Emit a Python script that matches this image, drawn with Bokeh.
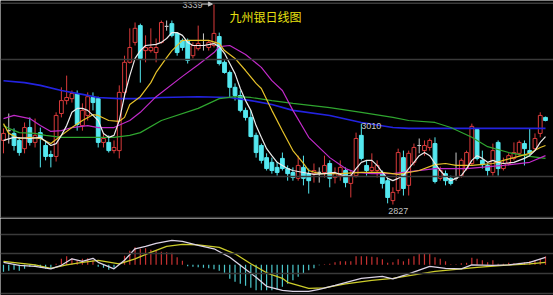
import numpy as np
from bokeh.plotting import figure
from bokeh.layouts import column
from bokeh.models import Range1d, ColumnDataSource, Span, Arrow, NormalHead
from bokeh.core.properties import value
from bokeh.embed import file_html
from bokeh.resources import INLINE

# ---------------- data (daily candles) ----------------
open_ = [2991,3016,3009,2991,2970,3024,2986,3011,2978,2955,
         2950,3060,3093,3098,3111,3029,3055,3101,3098,2986,
         2986,2965,2965,3114,3191,3242,3285,3221,3221,3216,
         3242,3283,3290,3265,3247,3247,3208,3226,3234,3229,
         3234,3257,3191,3165,3127,3106,3068,3050,3004,2978,
         2947,2935,2922,2945,2919,2909,2894,2922,2906,2906,
         2909,2909,2932,2896,2901,2914,2881,2901,3004,2927,
         2914,2914,2909,2888,2837,2863,2947,2876,2935,2978,
         2965,2973,2983,2894,2906,2894,2894,2901,2919,2932,
         3019,2940,2927,2909,2986,2919,2932,2945,2958,2983,
         2965,2970,3009,3050]
high = [3022,3060,3022,2999,3037,3050,3047,3024,2991,2965,
        3063,3127,3157,3119,3119,3086,3114,3114,3103,3009,
        3004,2991,3132,3208,3278,3293,3290,3260,3278,3252,
        3298,3298,3298,3267,3252,3252,3242,3285,3265,3247,
        3339,3267,3196,3170,3137,3119,3075,3068,3011,2983,
        2958,2947,2935,2960,2927,2922,2952,2952,2919,2932,
        2922,2952,2940,2922,2940,2922,2914,3011,3034,2940,
        2958,2940,2914,2896,2871,2970,2965,2965,2983,2996,
        2991,2996,2999,2924,2914,2901,2960,2945,2965,3034,
        3022,2965,2932,2983,2991,2947,2958,2986,2991,2991,
        3022,3009,3063,3052]
low = [2958,2983,2965,2952,2958,2978,2973,2922,2940,2922,
       2937,3050,3083,3088,3016,3016,3042,3068,2973,2973,
       2960,2958,2945,3101,3188,3234,3139,3191,3216,3191,
       3239,3272,3255,3208,3221,3188,3201,3221,3221,3221,
       3229,3183,3162,3101,3093,3063,3042,2999,2947,2932,
       2914,2906,2901,2914,2888,2888,2888,2876,2855,2883,
       2883,2896,2871,2881,2888,2871,2845,2896,2940,2901,
       2906,2896,2868,2830,2827,2855,2850,2850,2927,2958,
       2952,2965,2881,2888,2876,2876,2888,2896,2914,2927,
       2940,2919,2901,2901,2901,2914,2927,2940,2952,2927,
       2952,2965,2999,3040]
close = [3009,3016,2978,2960,3024,2986,3004,2996,2950,2950,
         3055,3093,3101,3111,3032,3068,3103,3088,2986,2996,
         2965,2973,3114,3191,3229,3278,3201,3229,3229,3229,
         3293,3283,3260,3216,3229,3196,3234,3239,3234,3242,
         3265,3188,3165,3127,3106,3068,3050,3001,2960,2940,
         2919,2914,2909,2919,2906,2896,2927,2894,2888,2914,
         2909,2927,2894,2906,2922,2883,2901,2996,2945,2914,
         2922,2927,2881,2845,2858,2960,2868,2958,2973,2978,
         2978,2991,2886,2914,2888,2881,2894,2940,2960,3027,
         2945,2929,2914,2965,2919,2932,2952,2960,2986,2970,
         2958,2996,3055,3042]

# moving averages (sampled at candle positions)
ma5_idx = [0,2,5,7,9,10,11,12,13,14,15,16,17,18,19,20,21,22,23,24,25,26,27,29,30,31,32,33,34,35,36,38,40,41,42,43,44,45,46,47,48,49,50,51,52,53,54,55,57,59,61,63,65,66,67,68,69,70,71,72,73,74,75,76,77,78,79,80,81,82,83,84,85,86,87,88,89,90,91,92,93,94,95,97,99,100,101,102,103]
ma5 = [2991,2999,2996,2999,2978,2983,3004,3029,3063,3073,3073,3068,3055,3042,3009,2999,3004,3042,3106,3157,3201,3221,3234,3237,3242,3252,3267,3267,3260,3242,3234,3234,3239,3231,3214,3188,3162,3124,3093,3068,3029,2999,2970,2952,2935,2927,2919,2914,2909,2904,2906,2909,2899,2901,2919,2935,2940,2940,2927,2909,2894,2888,2894,2901,2919,2935,2952,2960,2952,2932,2914,2899,2888,2894,2901,2919,2940,2952,2945,2935,2940,2935,2932,2935,2945,2952,2965,2986,3001]
ma10_idx = [0,1,3,5,7,9,11,13,15,17,18,20,22,23,24,26,28,29,31,32,34,36,37,39,41,42,44,46,48,49,51,53,55,57,58,60,64,68,72,75,79,82,84,86,89,93,95,97,100,102,103]
ma10 = [3034,3009,2996,2999,2996,2983,3004,3024,3042,3057,3055,3042,3040,3050,3083,3103,3139,3165,3203,3221,3247,3247,3247,3247,3239,3221,3201,3170,3137,3124,3068,3016,2965,2932,2914,2906,2906,2909,2909,2904,2914,2929,2932,2927,2927,2932,2940,2947,2958,2973,2978]
ma20_idx = [0,2,5,7,9,11,13,16,18,21,24,26,29,34,37,40,41,43,46,49,51,53,55,58,62,65,67,70,74,82,88,95,100,103]
ma20 = [3047,3055,3047,3029,3014,3016,3024,3029,3024,3024,3042,3063,3103,3155,3185,3216,3231,3234,3211,3178,3144,3119,3068,2999,2947,2919,2909,2906,2906,2919,2919,2927,2935,2952]
ma60_idx = [0,1,3,6,8,11,18,21,24,26,30,37,41,44,47,51,55,62,68,74,77,82,85,89,92,96,100,103]
ma60 = [3029,3022,3011,3009,3004,2999,2999,2999,3004,3011,3042,3073,3098,3103,3101,3093,3086,3075,3063,3050,3042,3037,3024,2999,2975,2960,2950,2945]
ma120_idx = [0,4,7,11,15,18,22,26,30,37,43,47,51,55,62,68,74,77,103]
ma120 = [3144,3139,3132,3119,3109,3101,3098,3098,3101,3103,3101,3093,3083,3068,3055,3037,3024,3022,3022]

# MACD panel
macd_hist = [-14,-12,-10,-12,-8,-4,-4,-6,-8,-8,
             2,12,17,13,9,12,13,9,-4,-6,
             -10,-6,4,18,28,35,32,33,30,28,
             26,25,24,15,8,-3,-4,-5,-6,-7,
             -9,-12,-16,-28,-34,-38,-42,-46,-51,-51,
             -51,-51,-50,-44,-38,-31,-24,-18,-11,-7,
             -1,1,2,5,7,7,7,17,17,17,
             16,15,11,4,5,11,7,12,17,22,
             23,23,15,12,7,1,1,3,4,14,
             12,9,5,9,2,2,4,3,4,5,
             7,9,12,17]
dif_idx = [0,3,6,9,11,13,15,17,18,21,23,25,27,29,32,34,37,40,43,45,48,50,53,55,58,60,63,68,72,74,77,81,84,87,89,93,96,100,103]
dif = [5,-1,-3,-8,-1,12,7,13,5,-8,9,32,37,43,49,47,39,32,15,-1,-25,-43,-51,-53,-53,-49,-41,-27,-23,-28,-18,-3,-7,-8,0,-1,0,5,15]
dea_idx = [0,6,9,12,15,18,22,25,28,31,34,37,41,44,47,50,53,54,58,61,65,70,74,78,82,86,90,95,100,103]
dea = [7,0,-7,0,5,9,2,12,25,37,41,40,35,22,2,-16,-27,-35,-47,-46,-38,-31,-27,-20,-13,-9,-5,-1,2,5]

main_grid = [3342, 3198, 2899, 2794]
macd_grid = [60.6, 22.6, -17.4, -57.4]

title_text = "九州银日线图"
hi_text = "3339"
lo_text = "2827"
level_text = "3010"
level_idx = 68
level_price = 3028

# ---------------- styling ----------------
RED = "#d83a3a"
CYAN = "#54e8f0"
GREY = "#c8c8c8"
BG = "black"
GRID = "#3a3a3a"

n = len(close)
idx = np.arange(n)
o = np.array(open_, float); c = np.array(close, float)
h = np.array(high, float); l = np.array(low, float)
up = c > o
down = c < o
flat = c == o
cols = np.where(up, RED, np.where(down, CYAN, GREY))

xr = Range1d(-0.57, 104.52)
p = figure(width=553, height=218, x_range=xr, y_range=Range1d(2791.16, 3349.24),
           x_axis_type=None, y_axis_type=None, output_backend="svg",
           toolbar_location=None, min_border=0, background_fill_color=BG,
           border_fill_color=BG, outline_line_color=None)

for g in main_grid:
    p.add_layout(Span(location=g, dimension="width", line_color=GRID, line_width=1.5))

# wicks
p.segment(x0=idx, y0=l, x1=idx, y1=h, line_color=list(cols), line_width=1)
bw = 0.72
# up bodies (hollow red)
p.vbar(x=idx[up], top=c[up], bottom=o[up], width=bw, fill_color=BG,
       line_color=RED, line_width=1)
# down bodies (solid cyan)
p.vbar(x=idx[down], top=o[down], bottom=c[down], width=bw, fill_color=CYAN,
       line_color=CYAN, line_width=1)
# doji
p.segment(x0=idx[flat] - bw / 2, y0=o[flat], x1=idx[flat] + bw / 2, y1=o[flat],
          line_color=GREY, line_width=1.2)

# moving averages
p.line(ma120_idx, ma120, line_color="#2323e0", line_width=1.6)
p.line(ma60_idx, ma60, line_color="#2fa52f", line_width=1.2)
p.line(ma20_idx, ma20, line_color="#c02ac8", line_width=1.2)
p.line(ma10_idx, ma10, line_color="#e6c22a", line_width=1.2)
p.line(ma5_idx, ma5, line_color="#ececec", line_width=1.2)

# labels
hi_i = int(np.argmax(h)); lo_i = int(np.argmin(l))
lab_font = value("Liberation Sans")
p.text(x=[hi_i - 6], y=[h[hi_i]], text=[hi_text], text_color="#c0c0c0",
       text_font=lab_font, text_font_size="9px", text_align="left", text_baseline="middle")
p.add_layout(Arrow(end=NormalHead(size=4, fill_color="#c0c0c0", line_color="#c0c0c0"),
                   x_start=hi_i - 2.4, y_start=h[hi_i] + 1, x_end=hi_i - 0.3, y_end=h[hi_i] + 1,
                   line_color="#c0c0c0", line_width=1))
p.text(x=[lo_i + 1], y=[l[lo_i] - 17], text=[lo_text], text_color="#c0c0c0",
       text_font=lab_font, text_font_size="9px", text_align="center", text_baseline="middle")
p.text(x=[level_idx], y=[level_price], text=[level_text], text_color="#c8c8c8",
       text_font=lab_font, text_font_size="9px", text_align="left", text_baseline="middle")
p.text(x=[hi_i + 2.95], y=[3309], text=[title_text], text_color="#e8e010",
       text_font=value("Noto Sans CJK SC"), text_font_size="12px",
       text_align="left", text_baseline="middle")

# ---------------- MACD ----------------
q = figure(width=553, height=77, x_range=xr, y_range=Range1d(-61.4, 92.6),
           x_axis_type=None, y_axis_type=None, output_backend="svg",
           toolbar_location=None, min_border=0, background_fill_color=BG,
           border_fill_color=BG, outline_line_color=None)
for g in macd_grid:
    q.add_layout(Span(location=g, dimension="width", line_color=GRID, line_width=1.5))
hv = np.array(macd_hist, float)
hcols = ["#c83232" if v > 0 else "#4cc8cc" for v in hv]
q.segment(x0=idx, y0=np.zeros(n), x1=idx, y1=hv, line_color=hcols, line_width=1.2)
q.line(dea_idx, dea, line_color="#cccc2a", line_width=1.3)
q.line(dif_idx, dif, line_color="#dcd4e6", line_width=1.3)

layout = column(p, q, spacing=0)
open("out.html", "w").write(file_html(layout, INLINE))
